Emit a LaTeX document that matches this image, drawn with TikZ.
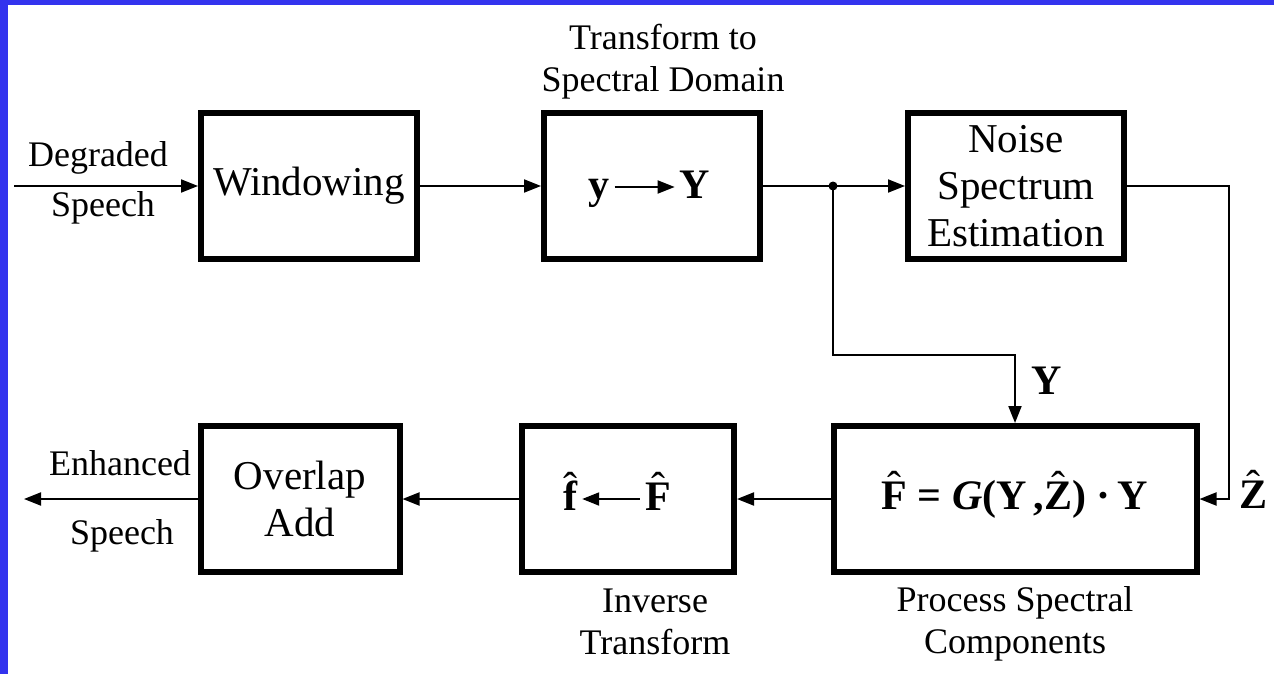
\documentclass[tikz,border=0pt]{standalone}
\usepackage{fontspec}
\setmainfont{Liberation Serif}
\usetikzlibrary{positioning,calc,arrows.meta}
\definecolor{slideblue}{RGB}{51,51,238}
% thin circumflex over a letter
\newcommand{\hatcap}[1]{\leavevmode\ooalign{#1\cr\hidewidth\raisebox{0.2em}{\mdseries\symbol{"02C6}}\hidewidth\cr}}

\begin{document}
\begin{tikzpicture}[x=1pt, y=-1pt,
    blk/.style={draw, line width=6pt, minimum width=216pt, minimum height=146pt, inner sep=0pt, align=center, font=\fontsize{41}{47}\selectfont},
    lbl/.style={inner sep=0pt, align=center, font=\fontsize{36}{42}\selectfont},
    sym/.style={inner sep=0pt, inner xsep=5pt, text height=30pt, text depth=8pt, font=\fontsize{42}{46}\selectfont\bfseries},
    arrow/.style={-{Triangle[length=17pt,width=13pt]}, line width=2pt},
    wire/.style={line width=2pt}
]
% slide background
\fill[slideblue] (0,0) rectangle (1274,674);
\fill[white] (8,5) rectangle (1274,674);

% top row
\node[blk] (win)   at (309,186)  {Windowing};
\node[blk] (fft)   at (652,186)  {};
\node[blk] (noise) at (1016,186) {Noise\\Spectrum\\Estimation};
\node[sym] (ysig)  at (599,187)  {y};
\node[sym] (Ysig)  at (695,187)  {Y};

% bottom row
\node[blk, minimum width=199pt] (ola)  at (300,499)  {Overlap\\Add};
\node[blk, minimum width=212pt] (inv)  at (628,499)  {};
\node[blk, minimum width=363pt, font=\fontsize{42}{46}\selectfont\bfseries] (proc) at (1015,499)
    {\hatcap{F} = \textit{G}(Y\,,\hatcap{Z}) \textperiodcentered\,Y};
\node[sym] (fsig)  at (570,499)  {\hatcap{f}};
\node[sym] (Fsig)  at (658,499)  {\hatcap{F}};

% labels
\node[lbl, anchor=base] (degr)  at (98,167)  {Degraded};
\node[lbl, anchor=base] (dsp)   at (103,216) {Speech};
\node[lbl, anchor=base] (enh)   at (120,475) {Enhanced};
\node[lbl, anchor=base] (esp)   at (122,544) {Speech};
\node[lbl] (tr)    at (663,62)  {Transform to\\Spectral Domain};
\node[lbl] (itr)   at (655,622) {Inverse\\Transform};
\node[lbl] (psc)   at (1015,624) {Process Spectral\\Components};
\node[sym] (ylab)  at (1047,383) {Y};
\node[sym] (zlab)  at (1253,497) {\hatcap{Z}};

% connections
\coordinate (in)    at (14,186);
\coordinate (out)   at (24,499);
\coordinate (split) at (833,186);
\coordinate (ybend) at (1015,355);

\draw[arrow] (in) -- (win);
\draw[arrow] (win) -- (fft);
\draw[arrow] (ysig) -- (Ysig);
\draw[wire]  (fft) -- (split);
\draw[arrow] (split) -- (noise);
\fill (split) circle (4.5pt);
\draw[arrow] (split) |- (ybend) -- (proc.north);
\draw[arrow] (noise.east) -- ++(102,0) |- (proc.east);
\draw[arrow] (proc) -- (inv);
\draw[arrow] (Fsig) -- (fsig);
\draw[arrow] (inv) -- (ola);
\draw[arrow] (ola) -- (out);
\end{tikzpicture}
\end{document}
